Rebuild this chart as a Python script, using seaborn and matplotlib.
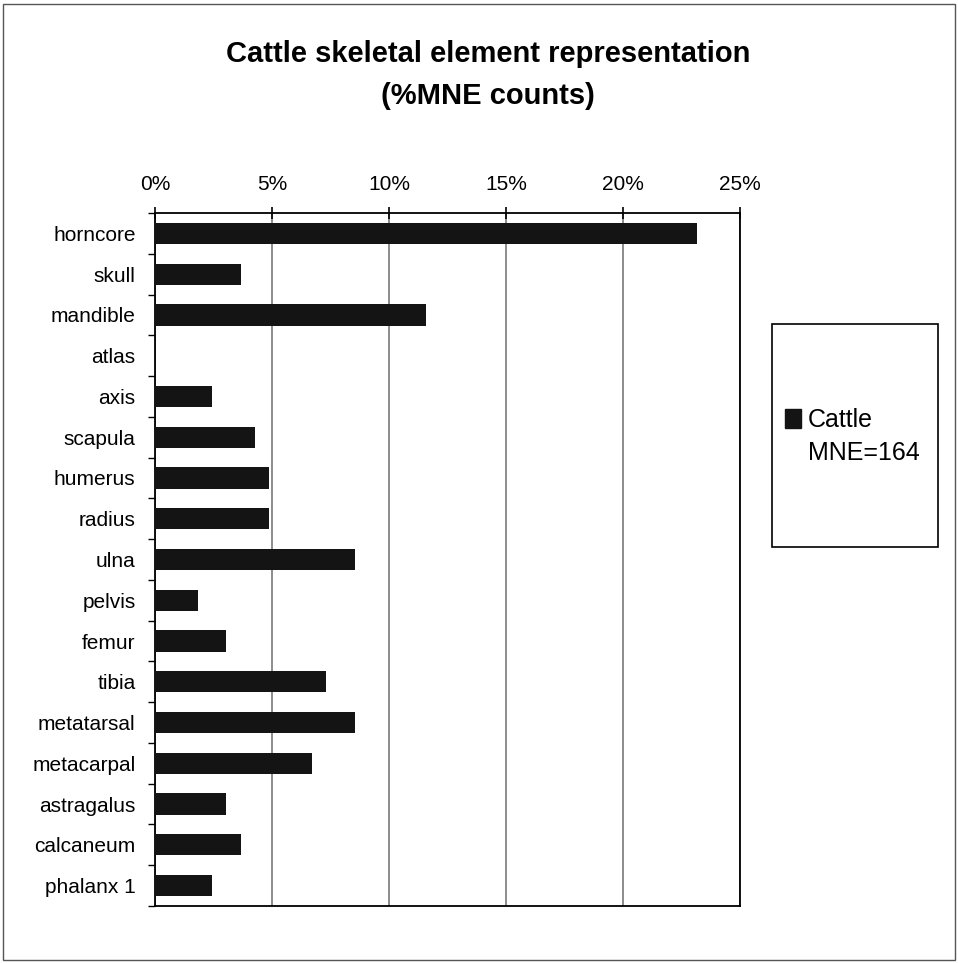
import numpy as np
import pandas as pd
import matplotlib
matplotlib.use("Agg")
import matplotlib.pyplot as plt
import seaborn as sns
from matplotlib.ticker import PercentFormatter, FixedLocator
from matplotlib.patches import Rectangle, Patch

# MNE counts per element (total 164)
elements = ["horncore", "skull", "mandible", "atlas", "axis", "scapula",
            "humerus", "radius", "ulna", "pelvis", "femur", "tibia",
            "metatarsal", "metacarpal", "astragalus", "calcaneum", "phalanx 1"]
mne_counts = [38, 6, 19, 0, 4, 7, 8, 8, 14, 3, 5, 12, 14, 11, 5, 6, 4]
total_mne = 164
x_ticks = [0, 0.05, 0.10, 0.15, 0.20, 0.25]

df = pd.DataFrame({"element": elements, "count": mne_counts})
df["pct"] = df["count"] / total_mne

sns.set_style("white")
plt.rcParams["font.family"] = ["Liberation Sans", "DejaVu Sans"]
plt.rcParams["text.color"] = "black"
plt.rcParams["xtick.color"] = "black"
plt.rcParams["ytick.color"] = "black"

fig = plt.figure(figsize=(9.58, 9.63), dpi=100)
ax = fig.add_axes([155 / 958, 1 - 906 / 963, 585 / 958, 693 / 963])

bar_color = "#141414"
sns.barplot(data=df, x="pct", y="element", orient="h", color=bar_color,
            width=0.52, saturation=1, linewidth=0, ax=ax, zorder=3)

ax.set_xlim(0, 0.25)
ax.set_ylim(len(elements) - 0.5, -0.5)
ax.xaxis.tick_top()
ax.set_xticks(x_ticks)
ax.xaxis.set_major_formatter(PercentFormatter(1.0, decimals=0))
ax.tick_params(axis="x", direction="inout", length=8, width=1.2, pad=10,
               labelsize=15, colors="black")
ax.set_xlabel("")
ax.set_ylabel("")

# y ticks at category boundaries
ax.yaxis.set_minor_locator(FixedLocator(np.arange(-0.5, len(elements), 1)))
ax.tick_params(axis="y", which="major", length=0, pad=14, labelsize=15,
               labelcolor="black")
ax.tick_params(axis="y", which="minor", direction="out", length=5, width=1,
               color="black", left=True)

ax.grid(axis="x", color="#6e6e6e", linewidth=1.1, zorder=0)
ax.grid(axis="y", visible=False)
for side in ["top", "bottom", "left", "right"]:
    ax.spines[side].set_visible(True)
    ax.spines[side].set_color("black")
    ax.spines[side].set_linewidth(1.3)

fig.suptitle("Cattle skeletal element representation\n(%MNE counts)",
             x=488 / 958, y=1 - 40 / 963, fontsize=21, fontweight="bold",
             linespacing=1.65, va="top", color="black")

# legend box
fig.patches.append(Rectangle((772 / 958, 1 - 547 / 963), 166 / 958, 223 / 963,
                             transform=fig.transFigure, fill=False,
                             edgecolor="black", linewidth=1.2))
handles = [Patch(facecolor=bar_color, edgecolor=bar_color),
           Patch(facecolor="none", edgecolor="none")]
fig.legend(handles, ["Cattle", "MNE=164"], loc="upper left",
           bbox_to_anchor=(785 / 958, 1 - 408 / 963), frameon=False,
           fontsize=18, handlelength=0.65, handleheight=0.8,
           handletextpad=0.25, labelspacing=0.35, borderpad=0, borderaxespad=0)

# outer chart border
fig.patches.append(Rectangle((3 / 958, 3 / 963), 952 / 958, 956 / 963,
                             transform=fig.transFigure, fill=False,
                             edgecolor="#555555", linewidth=1))

fig.savefig("out.png", dpi=100, facecolor="white")
